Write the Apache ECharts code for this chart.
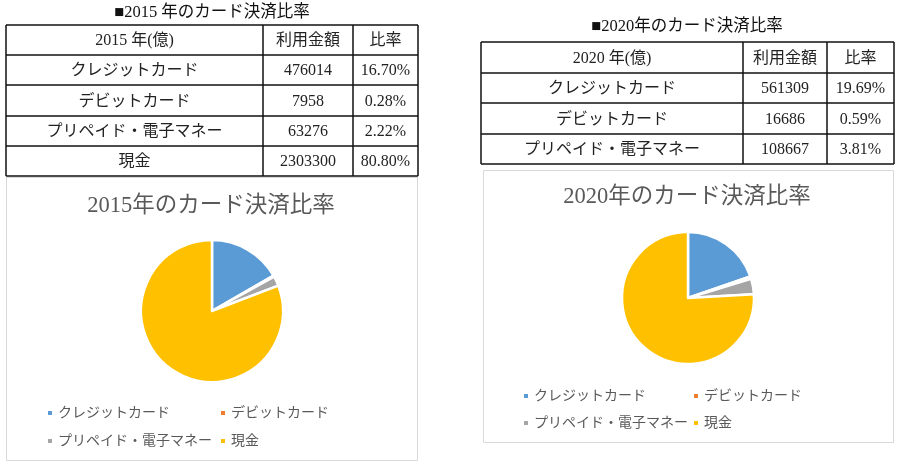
<!DOCTYPE html>
<html><head><meta charset="utf-8">
<script src="https://cdn.jsdelivr.net/npm/echarts@6/dist/echarts.min.js"></script>
<style>html,body{margin:0;padding:0;background:#fff}#c{width:904px;height:467px}</style>
</head><body><div id="c"></div>
<script>
// ---- data ----
const categories = ['クレジットカード', 'デビットカード', 'プリペイド・電子マネー', '現金'];
const amounts2015 = [476014, 7958, 63276, 2303300];
const ratios2015 = ['16.70%', '0.28%', '2.22%', '80.80%'];
const amounts2020 = [561309, 16686, 108667, 2164069]; // cash not in table; estimated from pie share
const ratios2020 = ['19.69%', '0.59%', '3.81%'];
const tableRows2020 = 3;
const headers2015 = ['2015 年(億)', '利用金額', '比率'];
const headers2020 = ['2020 年(億)', '利用金額', '比率'];
const tableTitle2015 = '■2015 年のカード決済比率';
const tableTitle2020 = '■2020年のカード決済比率';
const chartTitle2015 = '2015年のカード決済比率';
const chartTitle2020 = '2020年のカード決済比率';
const colors = ['#5B9BD5', '#ED7D31', '#A5A5A5', '#FFC000'];

// ---- styles ----
const FONT = "'Liberation Serif', 'Noto Sans CJK JP', serif";
const graphics = [];

function buildTable(x, y, colW, rowH, headers, names, amounts, ratios, nRows) {
  const cols = [x];
  colW.forEach(w => cols.push(cols[cols.length - 1] + w));
  const rows = [y];
  for (let i = 0; i <= nRows; i++) rows.push(rows[rows.length - 1] + rowH[i]);
  const lw = 1.5, col = '#111';
  rows.forEach(ry => graphics.push({type: 'line', shape: {x1: cols[0], y1: ry, x2: cols[cols.length - 1], y2: ry}, style: {stroke: col, lineWidth: lw}, silent: true}));
  cols.forEach(cx => graphics.push({type: 'line', shape: {x1: cx, y1: rows[0], x2: cx, y2: rows[rows.length - 1]}, style: {stroke: col, lineWidth: lw}, silent: true}));
  const cells = [headers];
  for (let i = 0; i < nRows; i++) cells.push([names[i], String(amounts[i]), ratios[i]]);
  cells.forEach((r, ri) => r.forEach((t, ci) => {
    graphics.push({type: 'text', x: (cols[ci] + cols[ci + 1]) / 2, y: (rows[ri] + rows[ri + 1]) / 2 + 1,
      style: {text: t, font: '16px ' + FONT, fill: '#222', align: 'center', verticalAlign: 'middle'}, silent: true});
  }));
}
buildTable(6, 25, [257, 90, 65], [30, 30, 31, 30, 30], headers2015, categories, amounts2015, ratios2015, 4);
buildTable(481, 42, [262, 84, 67], [31, 30, 31, 30], headers2020, categories, amounts2020, ratios2020, tableRows2020);

// chart frames
graphics.push({type: 'rect', shape: {x: 6.5, y: 177.5, width: 411, height: 283}, style: {fill: 'none', stroke: '#D9D9D9', lineWidth: 1}, silent: true, z: -1});
graphics.push({type: 'rect', shape: {x: 483.5, y: 170.5, width: 410, height: 272}, style: {fill: 'none', stroke: '#D9D9D9', lineWidth: 1}, silent: true, z: -1});

function pieData(amounts) { return categories.map((n, i) => ({name: n, value: amounts[i]})); }

function legendItem(name, left, top) {
  return {data: [name], left: left, top: top, icon: 'rect', itemWidth: 6, itemHeight: 6, itemGap: 0, padding: 0,
    textStyle: {fontFamily: FONT, fontSize: 14, color: '#595959'}, selectedMode: false};
}
const legCols2015 = [46, 219], legRows2015 = [406, 434];
const legCols2020 = [522, 692], legRows2020 = [389, 416];
const legends = [];
categories.forEach((n, i) => {
  legends.push(legendItem(n, legCols2015[i % 2], legRows2015[Math.floor(i / 2)]));
});
categories.forEach((n, i) => {
  legends.push(legendItem(n, legCols2020[i % 2], legRows2020[Math.floor(i / 2)]));
});

const option = {
  animation: false,
  color: colors,
  title: [
    {text: tableTitle2015, left: 212, top: 4, textAlign: 'center', padding: 0, textStyle: {fontFamily: FONT, fontSize: 16.5, fontWeight: 'normal', color: '#111'}},
    {text: tableTitle2020, left: 687, top: 18, textAlign: 'center', padding: 0, textStyle: {fontFamily: FONT, fontSize: 16.5, fontWeight: 'normal', color: '#111'}},
    {text: chartTitle2015, left: 211, top: 195, textAlign: 'center', padding: 0, textStyle: {fontFamily: FONT, fontSize: 22.5, fontWeight: 'normal', color: '#595959'}},
    {text: chartTitle2020, left: 687, top: 186, textAlign: 'center', padding: 0, textStyle: {fontFamily: FONT, fontSize: 22.5, fontWeight: 'normal', color: '#595959'}}
  ],
  legend: legends,
  graphic: graphics,
  series: [
    {type: 'pie', name: '2015', center: [212, 311], radius: 71, startAngle: 90, clockwise: true,
      label: {show: false}, labelLine: {show: false}, emphasis: {disabled: true},
      itemStyle: {borderColor: '#fff', borderWidth: 2.5}, data: pieData(amounts2015)},
    {type: 'pie', name: '2020', center: [688, 298], radius: 66, startAngle: 90, clockwise: true,
      label: {show: false}, labelLine: {show: false}, emphasis: {disabled: true},
      itemStyle: {borderColor: '#fff', borderWidth: 2.5}, data: pieData(amounts2020)}
  ]
};
const chart = echarts.init(document.getElementById('c'), null, {renderer: 'canvas'});
chart.setOption(option);
</script></body></html>
